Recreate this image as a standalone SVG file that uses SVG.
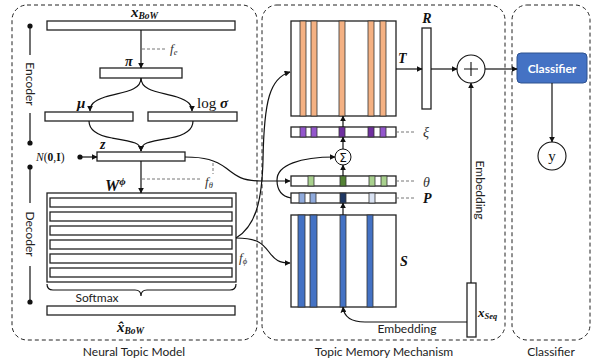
<svg xmlns="http://www.w3.org/2000/svg" width="595" height="361" viewBox="0 0 595 361">
<style>
.panel{fill:none;stroke:#222;stroke-width:1;stroke-dasharray:4 3}
.box{fill:#fff;stroke:#222;stroke-width:1.3}
.cell{stroke:#333;stroke-width:0.8}
.ln{fill:none;stroke:#111;stroke-width:1.2}
.dash{fill:none;stroke:#666;stroke-width:0.9;stroke-dasharray:3 2}
.sans{font-family:Lato,"Open Sans","Liberation Sans",sans-serif;font-size:12px;fill:#222}
.math{font-family:"Liberation Serif","DejaVu Serif",serif;font-weight:bold;font-style:italic;fill:#111}
.mi{font-family:"Liberation Serif","DejaVu Serif",serif;font-style:italic;fill:#333}
.or{fill:#F4B183}
.pu{fill:#9356CC}
.pd{fill:#7030A0}
.gl{fill:#A9D18E}
.gd{fill:#548235}
.bl{fill:#8FAADC}
.bn{fill:#1F3864}
.bp{fill:#DAE3F3}
.sb{fill:#4472C4}
</style>
<defs>
<marker id="ah" viewBox="0 0 10 10" refX="9" refY="5" markerWidth="6" markerHeight="6" orient="auto" markerUnits="userSpaceOnUse">
<path d="M0,0 L10,5 L0,10 z" fill="#111"/>
</marker>
</defs>

<g id="panels">
<rect class="panel" x="12" y="5" width="245" height="335" rx="15"/>
<rect class="panel" x="262" y="5" width="243" height="335" rx="15"/>
<rect class="panel" x="512" y="5" width="78" height="335" rx="15"/>
<text class="sans" x="134" y="356" text-anchor="middle">Neural Topic Model</text>
<text class="sans" x="384" y="356" text-anchor="middle">Topic Memory Mechanism</text>
<text class="sans" x="551" y="356" text-anchor="middle">Classifier</text>
</g>

<g id="encoder-label">
<line x1="30" y1="26" x2="30" y2="55" stroke="#111" stroke-width="1.2"/>
<line x1="30" y1="113" x2="30" y2="143" stroke="#111" stroke-width="1.2"/>
<circle cx="30" cy="26" r="2.6" fill="#111"/>
<circle cx="30" cy="143" r="2.6" fill="#111"/>
<text class="sans" transform="translate(30,84) rotate(90)" text-anchor="middle" dominant-baseline="central">Encoder</text>
</g>
<g id="decoder-label">
<line x1="30" y1="167" x2="30" y2="203" stroke="#111" stroke-width="1.2"/>
<line x1="30" y1="266" x2="30" y2="302" stroke="#111" stroke-width="1.2"/>
<circle cx="30" cy="167" r="2.6" fill="#111"/>
<circle cx="30" cy="302" r="2.6" fill="#111"/>
<text class="sans" transform="translate(30,234) rotate(90)" text-anchor="middle" dominant-baseline="central">Decoder</text>
</g>

<g id="xbow">
<rect class="box" x="47" y="21" width="188" height="9"/>
<text class="math" x="131" y="17" font-size="15">x<tspan font-size="9.5" dy="2">BoW</tspan></text>
</g>
<g id="pi">
<rect class="box" x="100" y="68" width="82" height="10"/>
<text class="math" x="125" y="66" font-size="14">π</text>
</g>
<g id="mu">
<rect class="box" x="45" y="112" width="88" height="9"/>
<text class="math" x="77" y="108" font-size="15">μ</text>
</g>
<g id="logsigma">
<rect class="box" x="148" y="112" width="89" height="9"/>
<text x="197" y="108" font-size="15" font-family="Liberation Serif,serif" fill="#111">log <tspan class="math">σ</tspan></text>
</g>
<g id="z">
<rect class="box" x="97" y="152" width="88" height="9"/>
<text class="math" x="100" y="149" font-size="14">z</text>
</g>
<g id="noise">
<text x="36" y="161" font-size="11.5" font-family="Liberation Serif,serif" fill="#111"><tspan font-style="italic">N</tspan>(<tspan font-weight="bold">0</tspan>,<tspan font-weight="bold">I</tspan>)</text>
<circle cx="80" cy="157" r="2.6" fill="#111"/>
</g>
<g id="W">
<text class="math" x="105" y="191" font-size="16">W<tspan font-size="11" dy="-6">ϕ</tspan></text>
<rect class="box" x="47" y="193" width="189" height="89"/>
<rect class="box" x="50" y="198" width="182" height="9"/>
<rect class="box" x="50" y="212" width="182" height="9"/>
<rect class="box" x="50" y="226" width="182" height="9"/>
<rect class="box" x="50" y="240" width="182" height="9"/>
<rect class="box" x="50" y="254" width="182" height="9"/>
<rect class="box" x="50" y="268" width="182" height="9"/>
</g>
<g id="softmax">
<path class="ln" stroke-width="1" d="M47,284 Q47,290 53,290 L135,290 Q141,290 141,296 Q141,290 147,290 L230,290 Q236,290 236,284"/>
<text class="sans" x="97" y="302" text-anchor="middle">Softmax</text>
</g>
<g id="xhat">
<rect class="box" x="47" y="306" width="188" height="9"/>
<text class="math" x="117" y="332" font-size="15">x̂<tspan font-size="9.5" dy="2">BoW</tspan></text>
</g>

<g id="T">
<rect class="box" x="291" y="21" width="105" height="95"/>
<rect class="cell or" x="300" y="21" width="6" height="95"/>
<rect class="cell or" x="311" y="21" width="6" height="95"/>
<rect class="cell or" x="339" y="21" width="6" height="95"/>
<rect class="cell or" x="368" y="21" width="6" height="95"/>
<rect class="cell or" x="380" y="21" width="6" height="95"/>
<text class="math" x="398" y="63" font-size="14">T</text>
</g>
<g id="xi">
<rect class="box" x="291" y="127" width="105" height="10"/>
<rect class="cell pu" x="300" y="127" width="6" height="10"/>
<rect class="cell pu" x="311" y="127" width="6" height="10"/>
<rect class="cell pd" x="339" y="127" width="6" height="10"/>
<rect class="cell pd" x="368" y="127" width="6" height="10"/>
<rect class="cell pu" x="380" y="127" width="6" height="10"/>
<text class="mi" x="423" y="137" font-size="14">ξ</text>
</g>
<g id="sigma">
<circle cx="343" cy="157" r="8" fill="#fff" stroke="#111" stroke-width="1"/>
<text x="343" y="161.5" font-size="12" text-anchor="middle" font-family="DejaVu Sans,sans-serif" fill="#111">Σ</text>
</g>
<g id="theta">
<rect class="box" x="291" y="176" width="105" height="10"/>
<rect class="cell gl" x="308" y="176" width="6" height="10"/>
<rect class="cell gd" x="340" y="176" width="6" height="10"/>
<rect class="cell gl" x="369" y="176" width="6" height="10"/>
<rect class="cell gl" x="381" y="176" width="6" height="10"/>
<text class="mi" x="423" y="187" font-size="14">θ</text>
</g>
<g id="P">
<rect class="box" x="291" y="193" width="105" height="10"/>
<rect class="cell bl" x="299" y="193" width="6" height="10"/>
<rect class="cell bl" x="310" y="193" width="6" height="10"/>
<rect class="cell bn" x="340" y="193" width="6" height="10"/>
<rect class="cell bp" x="369" y="193" width="6" height="10"/>
<text class="math" x="423" y="203" font-size="14">P</text>
</g>
<g id="S">
<rect class="box" x="291" y="215" width="105" height="92"/>
<rect class="cell sb" x="298" y="215" width="7" height="92"/>
<rect class="cell sb" x="310" y="215" width="7" height="92"/>
<rect class="cell sb" x="340" y="215" width="6" height="92"/>
<rect class="cell sb" x="367" y="215" width="6" height="92"/>
<text class="math" x="400" y="266" font-size="14">S</text>
</g>
<g id="R">
<rect class="box" x="422" y="28" width="9" height="81"/>
<text class="math" x="427" y="23" font-size="14" text-anchor="middle">R</text>
</g>
<g id="plus">
<circle cx="471" cy="69" r="14" fill="#fff" stroke="#111" stroke-width="1.1"/>
<path d="M464,69 H478 M471,62 V76" stroke="#111" stroke-width="1.1"/>
</g>
<g id="xseq">
<rect class="box" x="467" y="283" width="9" height="54"/>
<text class="math" x="478" y="317" font-size="13">x<tspan font-size="8.5" dy="2">Seq</tspan></text>
</g>
<g id="classifier">
<rect x="517" y="53" width="70" height="30" rx="4" fill="#4472C4" stroke="#2F528F" stroke-width="1"/>
<text x="552" y="72.5" text-anchor="middle" font-family="Lato,'Open Sans',sans-serif" font-weight="bold" font-size="12" fill="#fff">Classifier</text>
</g>
<g id="y">
<circle cx="552" cy="156" r="14" fill="#fff" stroke="#111" stroke-width="1.1"/>
<text x="552" y="161" text-anchor="middle" font-family="Liberation Serif,serif" font-size="15" fill="#111">y</text>
</g>

<g id="connectors">
<line class="ln" x1="141" y1="30" x2="141" y2="68" marker-end="url(#ah)"/>
<line class="dash" x1="142" y1="49" x2="165" y2="49"/>
<text class="mi" x="170" y="53" font-size="13">f<tspan font-size="8.5" dy="2">e</tspan></text>
<path class="ln" d="M141,78 C141,92 120,92 105,97 C93,101 90,105 90,111" marker-end="url(#ah)"/>
<path class="ln" d="M141,78 C141,92 162,92 177,97 C189,101 192,105 192,111" marker-end="url(#ah)"/>
<path class="ln" d="M89,121 C89,128 95,135 112,138 C135,142 141,143 141,151" marker-end="url(#ah)"/>
<path class="ln" d="M193,121 C193,128 187,135 170,138 C147,142 141,143 141,151" marker-end="url(#ah)"/>
<line class="ln" x1="82" y1="157" x2="97" y2="157" marker-end="url(#ah)"/>
<line class="ln" x1="141" y1="161" x2="141" y2="193" marker-end="url(#ah)"/>
<line class="dash" x1="142" y1="179" x2="201" y2="179"/>
<line class="dash" x1="213" y1="163" x2="213" y2="174"/>
<text class="mi" x="205" y="186" font-size="13">f<tspan font-size="8.5" dy="2">θ</tspan></text>
<path class="ln" d="M185,157 C205,157 215,160 226,168 C236,176 242,181 262,181 L290,181" marker-end="url(#ah)"/>
<path class="ln" d="M236,238 C256,226 262,200 263,160 C264,100 270,78 290,72" marker-end="url(#ah)"/>
<path class="ln" d="M236,238 C258,238 263,244 269,252 C275,260 279,263 290,263" marker-end="url(#ah)"/>
<text class="mi" x="239" y="262" font-size="13">f<tspan font-size="8.5" dy="2">ϕ</tspan></text>
<path class="ln" d="M291,198 C280,196 277,188 277,180 C277,165 300,157 335,157" marker-end="url(#ah)"/>
<line class="ln" x1="343" y1="215" x2="343" y2="203" marker-end="url(#ah)"/>
<line class="ln" x1="343" y1="176" x2="343" y2="165" marker-end="url(#ah)"/>
<line class="ln" x1="343" y1="149" x2="343" y2="137" marker-end="url(#ah)"/>
<line class="ln" x1="343" y1="127" x2="343" y2="116" marker-end="url(#ah)"/>
<line class="dash" x1="396" y1="132" x2="416" y2="132"/>
<line class="dash" x1="396" y1="181" x2="416" y2="181"/>
<line class="dash" x1="396" y1="198" x2="416" y2="198"/>
<line class="ln" x1="396" y1="69" x2="422" y2="69" marker-end="url(#ah)"/>
<line class="ln" x1="431" y1="69" x2="457" y2="69" marker-end="url(#ah)"/>
<line class="ln" x1="485" y1="69" x2="517" y2="69" marker-end="url(#ah)"/>
<line class="ln" x1="552" y1="83" x2="552" y2="142" marker-end="url(#ah)"/>
<line class="ln" x1="471" y1="283" x2="471" y2="83" marker-end="url(#ah)"/>
<text class="sans" font-size="11.5" transform="translate(480,190) rotate(90)" text-anchor="middle" dominant-baseline="central">Embedding</text>
<path class="ln" d="M467,322 L365,322 C352,322 344,318 343,307" marker-end="url(#ah)"/>
<text class="sans" font-size="11.5" x="407" y="333" text-anchor="middle">Embedding</text>
</g>
</svg>
